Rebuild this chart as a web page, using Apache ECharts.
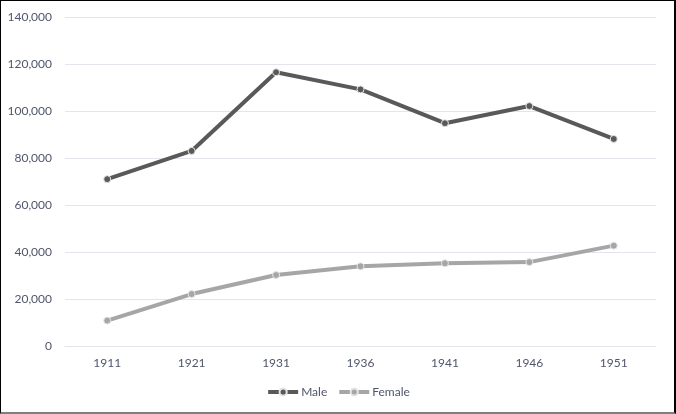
<!DOCTYPE html>
<html>
<head>
<meta charset="utf-8">
<script src="https://cdn.jsdelivr.net/npm/echarts@6/dist/echarts.min.js"></script>
<style>
  html, body { margin: 0; padding: 0; background: #fff; }
  #wrap { position: relative; width: 676px; height: 414px; }
  #main { width: 676px; height: 414px; }
  #frame {
    position: absolute; left: 0; top: 0; width: 676px; height: 414px;
    box-sizing: border-box; pointer-events: none;
    border-top: 1px solid #000; border-left: 1px solid #000;
    border-right: 2px solid #000; border-bottom: 2px solid #7f7f7f;
  }
</style>
</head>
<body>
<div id="wrap">
  <div id="main"></div>
  <div id="frame"></div>
</div>
<script>
// census years
var years = ["1911", "1921", "1931", "1936", "1941", "1946", "1951"];
// values
var male = [71000, 83000, 116500, 109200, 94800, 102100, 88100];
var female = [10800, 22100, 30200, 33900, 35200, 35700, 42700];

var textColor = "#50566a";
var font = "Lato, 'Liberation Sans', sans-serif";

var myChart = echarts.init(document.getElementById("main"));
myChart.setOption({
  animation: false,
  textStyle: { fontFamily: font },
  grid: { left: 65, right: 20, top: 17, bottom: 68, containLabel: false },
  legend: {
    bottom: 11,
    left: "center",
    itemWidth: 30,
    itemHeight: 9,
    itemGap: 10,
    lineStyle: { width: 4 },
    textStyle: { color: textColor, fontSize: 12, fontFamily: font, padding: [0, 0, 0, -2] },
    data: ["Male", "Female"]
  },
  xAxis: {
    type: "category",
    data: years,
    boundaryGap: true,
    axisLine: { show: true, lineStyle: { color: "#e3e4ec", width: 1 } },
    axisTick: { show: false },
    axisLabel: { color: textColor, fontSize: 12, margin: 11, fontFamily: font }
  },
  yAxis: {
    type: "value",
    min: 0,
    max: 140000,
    interval: 20000,
    axisLine: { show: false },
    axisTick: { show: false },
    axisLabel: {
      color: textColor,
      fontSize: 12,
      margin: 13,
      fontFamily: font,
      formatter: function (v) { return v.toLocaleString("en-US"); }
    },
    splitLine: { lineStyle: { color: "#e3e4ec", width: 1 } }
  },
  series: [
    {
      name: "Male",
      type: "line",
      data: male,
      symbol: "circle",
      symbolSize: 7,
      lineStyle: { color: "#595959", width: 4 },
      itemStyle: { color: "#595959", borderColor: "#e6e6e6", borderWidth: 1 }
    },
    {
      name: "Female",
      type: "line",
      data: female,
      symbol: "circle",
      symbolSize: 7,
      lineStyle: { color: "#a6a6a6", width: 4 },
      itemStyle: { color: "#a6a6a6", borderColor: "#e6e6e6", borderWidth: 1 }
    }
  ]
});
</script>
</body>
</html>
